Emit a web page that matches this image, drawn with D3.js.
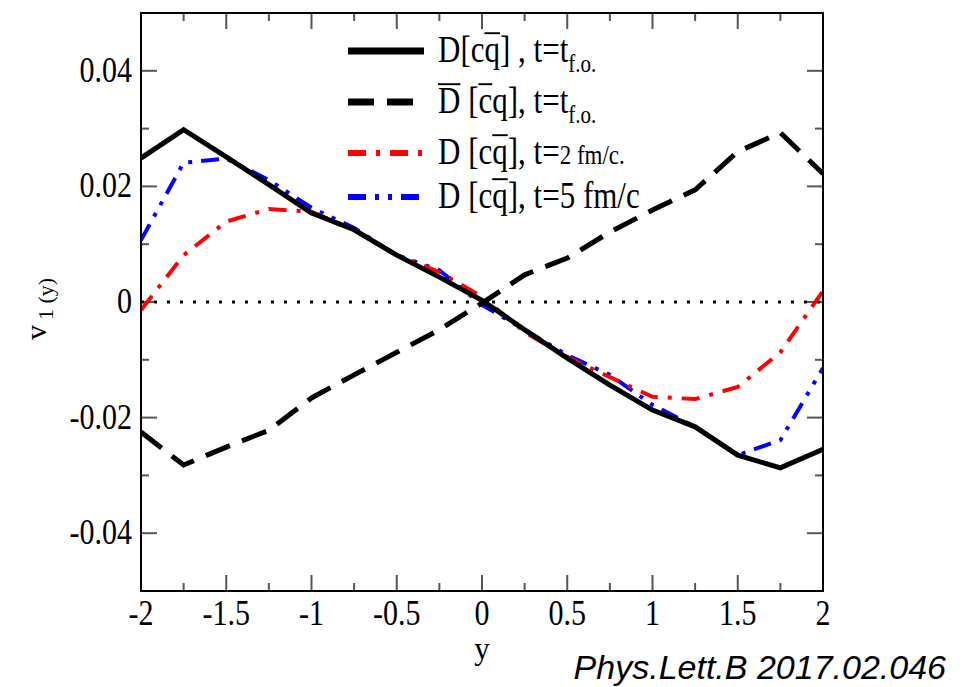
<!DOCTYPE html>
<html>
<head>
<meta charset="utf-8">
<script src="https://cdnjs.cloudflare.com/ajax/libs/d3/7.8.5/d3.min.js"></script>
<style>
body { margin: 0; background: #fff; }
svg text { font-family: "Liberation Serif", "DejaVu Serif", serif; }
</style>
</head>
<body>
<div id="chartDiv"></div>
<script>
// rapidity points
var rapidity = [-2, -1.75, -1.5, -1.25, -1, -0.75, -0.5, -0.25, 0, 0.25, 0.5, 0.75, 1, 1.25, 1.5, 1.75, 2];

// v1 values
var dFo =    [0.0249, 0.0298, 0.0251, 0.0203, 0.0154, 0.0125, 0.0081, 0.0043, 0.0003, -0.0048, -0.0097, -0.0144, -0.0187, -0.0216, -0.0265, -0.0287, -0.0255];
var dbarFo = [-0.0225, -0.0282, -0.0251, -0.0222, -0.0166, -0.0126, -0.0087, -0.0048, -0.0002, 0.0047, 0.0076, 0.0121, 0.0159, 0.0194, 0.0260, 0.0293, 0.0222];
var dT2 =    [-0.0014, 0.0081, 0.0139, 0.0161, 0.0156, 0.0125, 0.0081, 0.0052, 0.0009, -0.0052, -0.0095, -0.0130, -0.0164, -0.0168, -0.0147, -0.0087, 0.0019];
var dT5 =    [0.0107, 0.0241, 0.0248, 0.0211, 0.0163, 0.0128, 0.0081, 0.0055, -0.0005, -0.0048, -0.0092, -0.0126, -0.0178, -0.0216, -0.0265, -0.0239, -0.0114];

var xTicks = [-2, -1.5, -1, -0.5, 0, 0.5, 1, 1.5, 2];
var yTicks = [-0.04, -0.02, 0, 0.02, 0.04];

var series = [
	{ values: dFo, color: "#000", width: 5, dash: null },
	{ values: dbarFo, color: "#000", width: 5, dash: "26,13" },
	{ values: dT2, color: "#ff0000", width: 4, dash: "18,10,4,10" },
	{ values: dT5, color: "#0000ff", width: 4, dash: "18,9,4,9,4,9" }
];

var W = 969, H = 687;
var margin = {top: 13, right: 146, bottom: 96, left: 141},
    width = W - margin.left - margin.right,
    height = H - margin.top - margin.bottom;

// text in the figure is slightly stretched vertically
var SY = 1.2;

var x = d3.scaleLinear().domain([-2, 2]).range([0, width]);
var y = d3.scaleLinear().domain([-0.05, 0.05]).range([height, 0]);

var svg = d3.select("#chartDiv").append("svg")
	.attr("width", W)
	.attr("height", H);

var g = svg.append("g")
	.attr("transform", "translate(" + margin.left + "," + margin.top + ")");

// text placed at (px,py) with vertical stretch
function stretched(parent, px, py, size) {
	return parent.append("g")
		.attr("transform", "translate(" + px + "," + py + ") scale(1," + SY + ")")
		.append("text")
		.attr("font-size", size);
}

// ticks pointing inward on all four sides
var tickColor = "#555";
var xMinor = d3.range(-2, 2.001, 0.25);
var yMinor = d3.range(-0.05, 0.0501, 0.01);
function isMajorX(v) { return Math.abs(v * 2 - Math.round(v * 2)) < 1e-6; }
function isMajorY(v) { return Math.abs(v * 50 - Math.round(v * 50)) < 1e-6; }

xMinor.forEach(function(v) {
	var len = isMajorX(v) ? 16 : 8;
	g.append("line").attr("x1", x(v)).attr("x2", x(v)).attr("y1", height).attr("y2", height - len)
		.attr("stroke", tickColor).attr("stroke-width", 2);
	g.append("line").attr("x1", x(v)).attr("x2", x(v)).attr("y1", 0).attr("y2", len)
		.attr("stroke", tickColor).attr("stroke-width", 2);
});
yMinor.forEach(function(v) {
	var len = isMajorY(v) ? 16 : 8;
	g.append("line").attr("x1", 0).attr("x2", len).attr("y1", y(v)).attr("y2", y(v))
		.attr("stroke", tickColor).attr("stroke-width", 2);
	g.append("line").attr("x1", width).attr("x2", width - len).attr("y1", y(v)).attr("y2", y(v))
		.attr("stroke", tickColor).attr("stroke-width", 2);
});

// tick labels
xTicks.forEach(function(d) {
	stretched(g, x(d), height + 34, 30)
		.attr("text-anchor", "middle")
		.text(String(d));
});
yTicks.forEach(function(d) {
	stretched(g, -9, y(d) + 11, 30)
		.attr("text-anchor", "end")
		.text(d === 0 ? "0" : d3.format(".2f")(d).replace("−", "-"));
});

// zero reference line (dotted)
g.append("line")
	.attr("x1", x(-2)).attr("x2", x(2))
	.attr("y1", y(0)).attr("y2", y(0))
	.attr("stroke", "#000").attr("stroke-width", 3)
	.attr("stroke-dasharray", "3,10");

// curves
var line = d3.line()
	.x(function(d, i) { return x(rapidity[i]); })
	.y(function(d) { return y(d); });

svg.append("defs").append("clipPath").attr("id", "clip")
	.append("rect").attr("width", width).attr("height", height);

series.slice().reverse().forEach(function(s) {
	g.append("path")
		.attr("d", line(s.values))
		.attr("fill", "none")
		.attr("stroke", s.color)
		.attr("stroke-width", s.width)
		.attr("stroke-dasharray", s.dash)
		.attr("clip-path", "url(#clip)");
});

// frame
g.append("rect")
	.attr("width", width).attr("height", height)
	.attr("fill", "none").attr("stroke", "#000").attr("stroke-width", 2);

// legend
var legend = svg.append("g");
var rowsY = [51, 102, 153, 197];
series.forEach(function(s, i) {
	legend.append("line")
		.attr("x1", 348).attr("x2", 424)
		.attr("y1", rowsY[i]).attr("y2", rowsY[i])
		.attr("stroke", s.color)
		.attr("stroke-width", s.width + 2)
		.attr("stroke-dasharray", s.dash);
});

function legendText(row) {
	return stretched(legend, 438, rowsY[row] + 11, 31);
}

// draws a bar over a tspan (after layout), in the tspan's own coordinates
var overlined = [];
function bar(tspan) {
	overlined.push(tspan);
	return tspan;
}

var t0 = legendText(0);
t0.append("tspan").text("D[c");
bar(t0.append("tspan").text("q"));
t0.append("tspan").text("] , t=t");
t0.append("tspan").attr("font-size", 21).attr("dy", 8).text("f.o.");

var t1 = legendText(1);
bar(t1.append("tspan").text("D"));
t1.append("tspan").text(" [");
bar(t1.append("tspan").text("c"));
t1.append("tspan").text("q], t=t");
t1.append("tspan").attr("font-size", 21).attr("dy", 8).text("f.o.");

var t2 = legendText(2);
t2.append("tspan").text("D [c");
bar(t2.append("tspan").text("q"));
t2.append("tspan").text("], t=");
t2.append("tspan").attr("font-size", 23).text("2 fm/c.");

var t3 = legendText(3);
t3.append("tspan").text("D [c");
bar(t3.append("tspan").text("q"));
t3.append("tspan").text("], t=5 fm/c");

overlined.forEach(function(ts) {
	var node = ts.node();
	var textNode = node.parentNode;
	var start = node.getStartPositionOfChar(0).x;
	var len = node.getComputedTextLength();
	d3.select(textNode.parentNode).append("line")
		.attr("x1", start).attr("x2", start + len)
		.attr("y1", -24).attr("y2", -24)
		.attr("stroke", "#000").attr("stroke-width", 1.6);
});

// axis titles
svg.append("text")
	.attr("x", margin.left + x(0))
	.attr("y", 659)
	.attr("text-anchor", "middle")
	.attr("font-size", 31)
	.text("y");

var yt = svg.append("text")
	.attr("transform", "translate(46,340) rotate(-90)")
	.attr("font-size", 30);
yt.append("tspan").text("v");
yt.append("tspan").attr("font-size", 22).attr("dy", 7).attr("dx", 5).text("1 (y)");

// source note
svg.append("text")
	.attr("x", 946)
	.attr("y", 679)
	.attr("text-anchor", "end")
	.attr("font-size", 34)
	.attr("font-style", "italic")
	.style("font-family", "'Liberation Sans', Arial, sans-serif")
	.text("Phys.Lett.B 2017.02.046");
</script>
</body>
</html>
